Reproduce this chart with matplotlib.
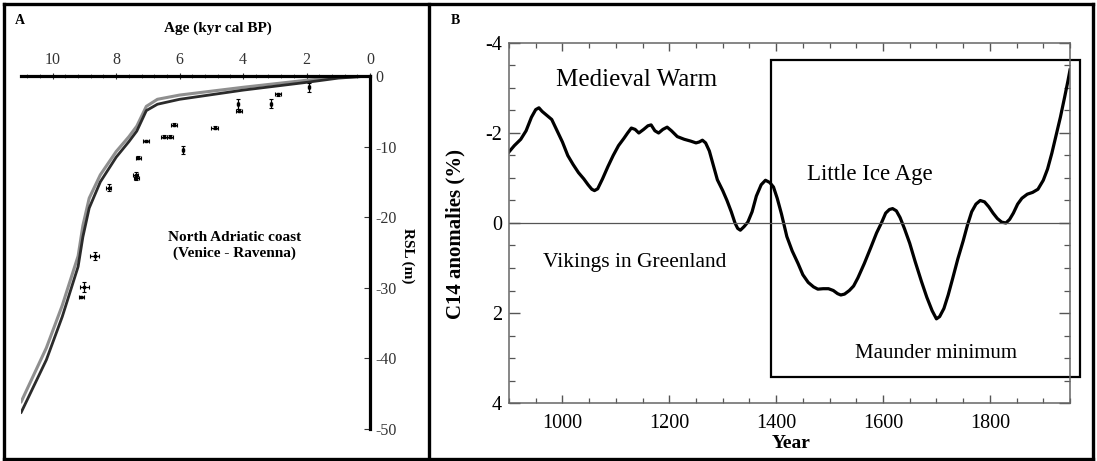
import matplotlib
matplotlib.use("Agg")
import matplotlib.pyplot as plt
from matplotlib.ticker import MultipleLocator
from matplotlib.patches import Rectangle
from matplotlib.lines import Line2D

plt.rcParams['font.family'] = 'Liberation Serif'
plt.rcParams['axes.unicode_minus'] = False

# ---- panel A: relative sea level, North Adriatic ----
model_age = [11.0, 10.2, 9.7, 9.2, 9.05, 8.85, 8.5, 8.0, 7.6, 7.35, 7.05, 6.7, 6.0, 4.0, 2.0, 1.0, 0.0]
model_rsl_dark = [-47.7, -40.2, -34.1, -27.0, -22.8, -18.7, -15.0, -11.5, -9.3, -7.8, -4.9, -4.0, -3.3, -2.0, -0.9, -0.3, 0.0]
model_rsl_grey = [-46.2, -38.5, -32.5, -25.5, -21.2, -17.3, -14.0, -10.7, -8.6, -7.1, -4.3, -3.3, -2.7, -1.6, -0.6, -0.2, 0.0]

obs_age = [1.92, 2.9, 3.12, 4.17, 4.12, 4.9, 6.18, 6.5, 6.3, 5.9, 7.07, 7.3, 7.38, 7.36, 8.23, 8.68, 9.0, 9.1]
obs_rsl = [-1.6, -2.6, -3.9, -4.0, -4.9, -7.3, -6.9, -8.6, -8.6, -10.5, -9.2, -11.6, -14.0, -14.4, -15.8, -25.5, -29.9, -31.3]
obs_xerr = [0.03, 0.1, 0.03, 0.03, 0.1, 0.1, 0.1, 0.1, 0.1, 0.03, 0.1, 0.08, 0.08, 0.08, 0.08, 0.15, 0.15, 0.08]
obs_yerr = [0.6, 0.2, 0.6, 0.7, 0.2, 0.2, 0.2, 0.2, 0.2, 0.6, 0.2, 0.2, 0.4, 0.4, 0.5, 0.6, 0.7, 0.2]

# ---- panel B: C14 anomalies ----
year = [900, 910, 922, 932, 942, 950, 956, 962, 970, 980, 990, 1000, 1010, 1020, 1030, 1040,
        1048, 1055, 1060, 1066, 1075, 1085, 1095, 1105, 1115, 1122, 1129, 1136, 1143, 1152,
        1160, 1166, 1173, 1180, 1188, 1196, 1204, 1215, 1228, 1240, 1250, 1256, 1262, 1268,
        1275, 1282, 1290, 1300, 1308, 1316, 1323, 1328, 1333, 1340, 1347, 1355, 1363, 1372,
        1380, 1388, 1395, 1402, 1410, 1420, 1430, 1441, 1450, 1460, 1470, 1478, 1488, 1498,
        1507, 1515, 1521, 1528, 1537, 1545, 1553, 1565, 1577, 1588, 1597, 1605, 1612, 1618,
        1625, 1632, 1640, 1650, 1660, 1672, 1682, 1692, 1700, 1706, 1714, 1722, 1730, 1740,
        1750, 1758, 1766, 1774, 1782, 1790, 1798, 1806, 1814, 1822, 1830, 1837, 1844, 1852,
        1860, 1870, 1880, 1890, 1900, 1908, 1916, 1924, 1932, 1940, 1946, 1950]
c14 = [-1.58, -1.72, -1.86, -2.05, -2.35, -2.52, -2.56, -2.48, -2.4, -2.3, -2.05, -1.8, -1.5, -1.3, -1.12, -0.98,
       -0.85, -0.75, -0.72, -0.76, -0.98, -1.25, -1.5, -1.72, -1.88, -2.0, -2.11, -2.08, -2.0, -2.08,
       -2.16, -2.18, -2.05, -2.0, -2.08, -2.13, -2.05, -1.92, -1.86, -1.82, -1.78, -1.8, -1.84, -1.78,
       -1.6, -1.3, -0.96, -0.72, -0.5, -0.25, 0.0, 0.12, 0.16, 0.08, -0.02, -0.25, -0.6, -0.85,
       -0.95, -0.9, -0.8, -0.55, -0.2, 0.3, 0.62, 0.9, 1.15, 1.32, 1.42, 1.47, 1.46, 1.46,
       1.5, 1.57, 1.6, 1.58, 1.5, 1.4, 1.22, 0.9, 0.55, 0.22, 0.0, -0.22, -0.3, -0.32,
       -0.27, -0.12, 0.12, 0.45, 0.85, 1.3, 1.65, 1.95, 2.13, 2.08, 1.9, 1.6, 1.25, 0.8,
       0.4, 0.05, -0.25, -0.42, -0.5, -0.47, -0.36, -0.22, -0.1, -0.02, 0.0, -0.08, -0.22, -0.42,
       -0.55, -0.64, -0.68, -0.75, -0.95, -1.2, -1.55, -1.95, -2.35, -2.8, -3.15, -3.4]

W, H = 1097, 461
fig = plt.figure(figsize=(W / 100, H / 100), dpi=100)


def px_rect(x0, y0, x1, y1):
    return [x0 / W, 1 - y1 / H, (x1 - x0) / W, (y1 - y0) / H]


# panel A
axA = fig.add_axes(px_rect(21, 76, 370, 429))
axA.plot(model_age, model_rsl_grey, color='#8f8f8f', lw=2.2, solid_capstyle='round')
axA.plot(model_age, model_rsl_dark, color='#2b2b2b', lw=2.0, solid_capstyle='round')
axA.errorbar(obs_age, obs_rsl, xerr=obs_xerr, yerr=obs_yerr, fmt='s', ms=2.0,
             color='black', ecolor='black', elinewidth=0.9, capsize=1.2, capthick=0.8)
axA.set_xlim(11, 0)
axA.set_ylim(-50, 0)
for s in ['left', 'bottom']:
    axA.spines[s].set_visible(False)
for s in ['top', 'right']:
    axA.spines[s].set_linewidth(2.3)
axA.xaxis.tick_top()
axA.yaxis.tick_right()
axA.xaxis.set_major_locator(MultipleLocator(2))
axA.xaxis.set_minor_locator(MultipleLocator(0.4))
axA.yaxis.set_major_locator(MultipleLocator(10))
axA.tick_params(axis='x', which='major', direction='inout', length=5, width=0.8,
                labelsize=11.5, pad=3, colors='#333333')
axA.tick_params(axis='x', which='minor', direction='inout', length=3, width=0.6, colors='#555555')
axA.tick_params(axis='y', which='major', direction='in', length=4, width=0.8,
                labelsize=11.5, pad=4, colors='#333333')
axA.text(0.565, 1.0 + 48 / 353, 'Age (kyr cal BP)', transform=axA.transAxes,
         ha='center', va='center', fontsize=11, fontweight='bold')
axA.text(1.0 + 38 / 349, 0.49, 'RSL (m)', transform=axA.transAxes, rotation=270,
         ha='center', va='center', fontsize=11, fontweight='bold')
axA.text(4.26, -22.9, 'North Adriatic coast', ha='center', va='center',
         fontsize=11, fontweight='bold')
axA.text(4.26, -25.1, '(Venice - Ravenna)', ha='center', va='center',
         fontsize=11, fontweight='bold')

# panel B
axB = fig.add_axes(px_rect(509, 43, 1070, 403))
axB.plot(year, c14, color='black', lw=2.3, solid_joinstyle='round')
axB.axhline(0, color='#555555', lw=0.9)
axB.set_xlim(900, 1950)
axB.set_ylim(4, -4)
for s in axB.spines.values():
    s.set_color('#666666')
    s.set_linewidth(1.1)
axB.xaxis.set_major_locator(MultipleLocator(200))
axB.xaxis.set_minor_locator(MultipleLocator(50))
axB.yaxis.set_major_locator(MultipleLocator(2))
axB.yaxis.set_minor_locator(MultipleLocator(0.5))
axB.tick_params(which='both', direction='in', top=True, right=True, color='#555555')
axB.tick_params(which='major', length=8, width=1.0, labelsize=14.5)
axB.tick_params(which='minor', length=4.5, width=0.9)
axB.tick_params(axis='x', which='major', length=6, pad=8)
axB.tick_params(axis='x', which='minor', length=3.5)
axB.tick_params(axis='y', pad=5)
axB.add_patch(Rectangle((1390, -3.62), 1969 - 1390, 3.42 + 3.62, fill=False,
                        edgecolor='black', lw=1.6, clip_on=False))
axB.text(1138, -3.18, 'Medieval Warm', ha='center', va='center', fontsize=18)
axB.text(1575, -1.07, 'Little Ice Age', ha='center', va='center', fontsize=16.5)
axB.text(1136, 0.87, 'Vikings in Greenland', ha='center', va='center', fontsize=15.5)
axB.text(1700, 2.89, 'Maunder minimum', ha='center', va='center', fontsize=15)
axB.text(1429, 4 + 40 / 45, 'Year', ha='center', va='center', fontsize=14,
         fontweight='bold')
axB.text(-54 / 561, 0.47, 'C14 anomalies (%)', transform=axB.transAxes, rotation=90,
         ha='center', va='center', fontsize=15, fontweight='bold')

# panel letters
fig.text(15 / W, 1 - 21 / H, 'A', ha='left', va='center', fontsize=10, fontweight='bold')
fig.text(451 / W, 1 - 20 / H, 'B', ha='left', va='center', fontsize=10, fontweight='bold')

# frames around the panels
frame_kw = dict(color='black', lw=2.4, transform=fig.transFigure, solid_capstyle='projecting')
x_l, x_r, x_d = 4 / W, 1093 / W, 428.5 / W
y_t, y_b = 1 - 4 / H, 1 - 459 / H
fig.add_artist(Line2D([x_l, x_r], [y_t, y_t], **frame_kw))
fig.add_artist(Line2D([x_l, x_r], [y_b, y_b], **frame_kw))
fig.add_artist(Line2D([x_l, x_l], [y_b, y_t], **frame_kw))
fig.add_artist(Line2D([x_r, x_r], [y_b, y_t], **frame_kw))
fig.add_artist(Line2D([x_d, x_d], [y_b, y_t], **frame_kw))

fig.savefig('out.png', dpi=100, facecolor='white')
